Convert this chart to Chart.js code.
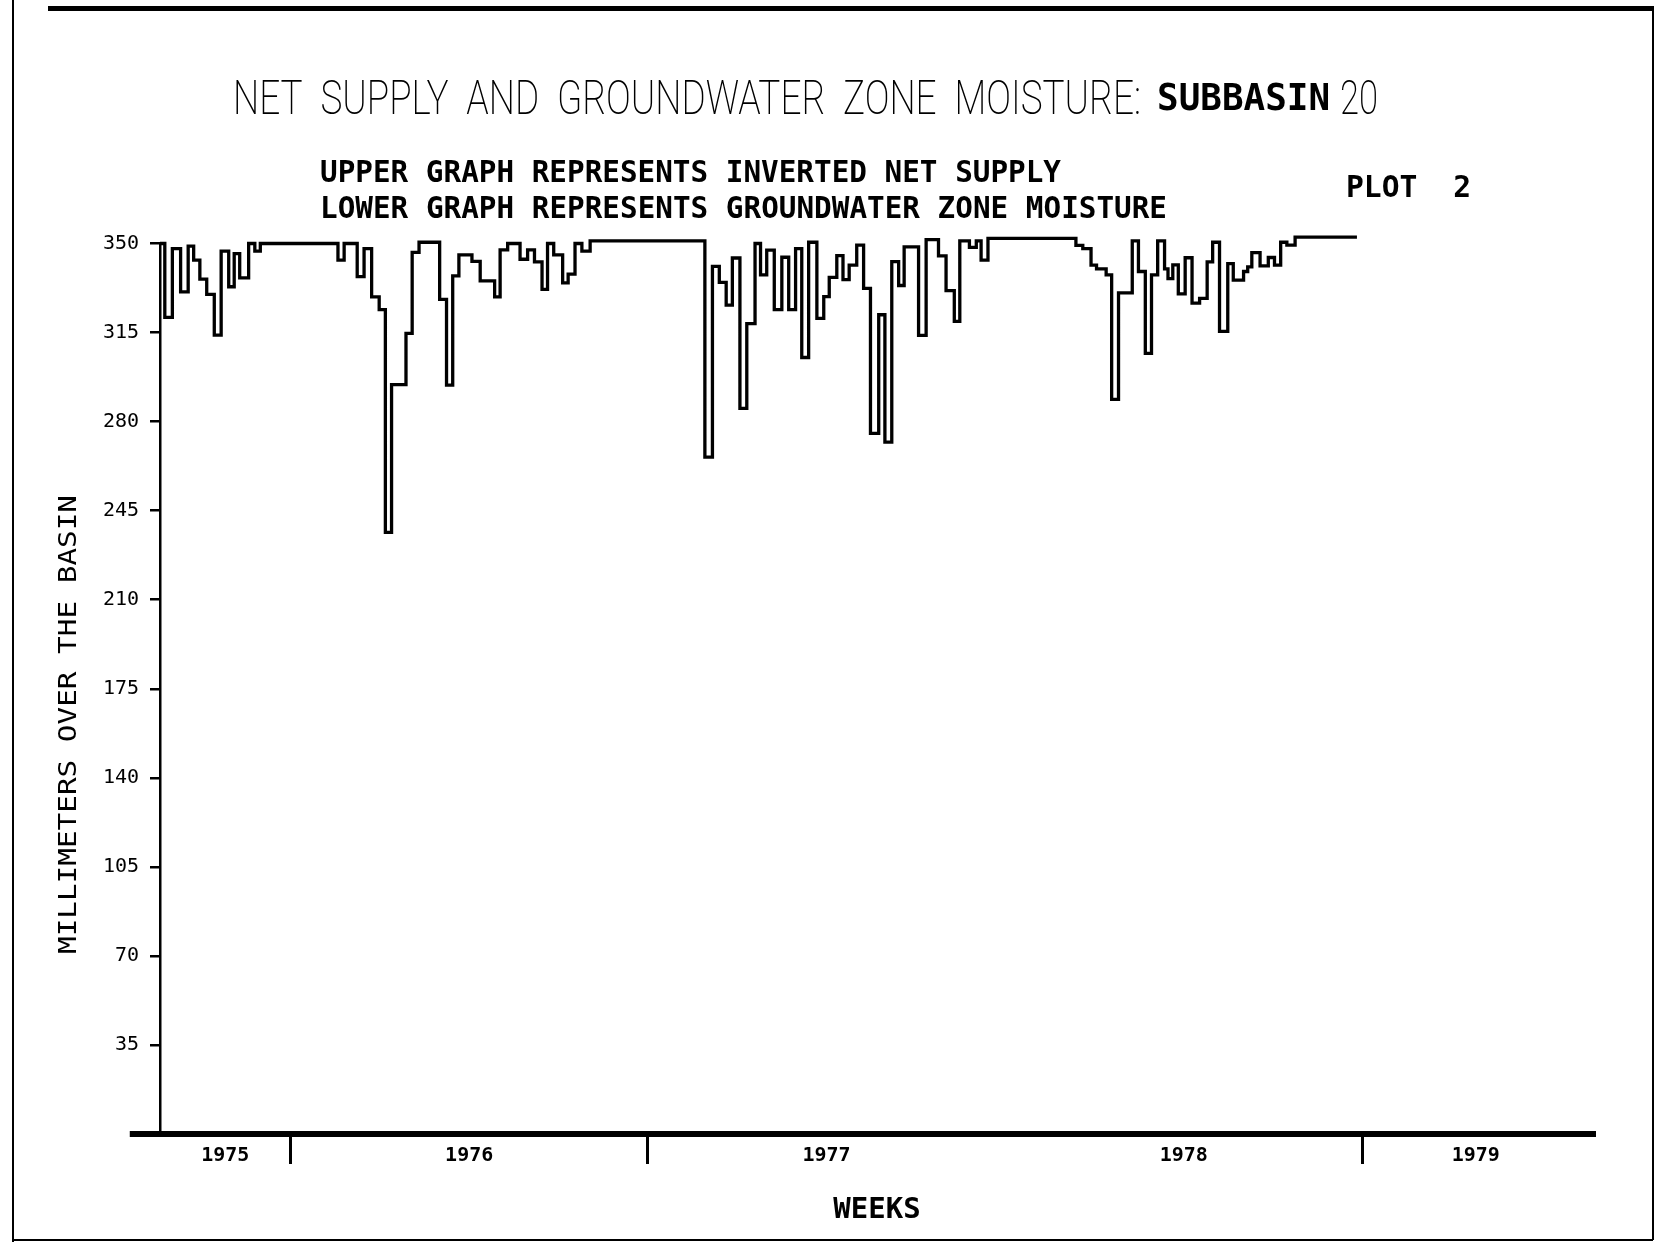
<!DOCTYPE html>
<html>
<head>
<meta charset="utf-8">
<title>Net supply and groundwater zone moisture: subbasin 20</title>
<script src="https://cdn.jsdelivr.net/npm/chart.js@4.4.0/dist/chart.umd.min.js"></script>
<style>
  html, body { margin: 0; padding: 0; background: #fff; }
  #plot { display: block; }
</style>
</head>
<body>
<canvas id="plot" width="1675" height="1242"></canvas>
<script>
// week at which each step of the plotted curve starts (week 0 = first plotted week of 1975)
var weekStarts = [
  0, 0.7, 1.8, 3.0, 4.1, 4.9, 5.8, 6.8, 7.9, 8.9, 10.0, 10.8, 11.6, 12.9, 13.8, 14.6,
  25.9, 26.8, 28.7, 29.7, 30.8, 31.9, 32.8, 33.7, 35.8, 36.7, 37.7,
  40.7, 41.7, 42.6, 43.5, 45.4, 46.6, 48.7, 49.5, 50.6, 52.4, 53.5, 54.5, 55.6, 56.4,
  57.3, 58.6, 59.4, 60.4, 61.4, 62.6,
  79.3, 80.4, 81.4, 82.4, 83.3, 84.4, 85.4, 86.6, 87.4, 88.3, 89.4, 90.5, 91.5, 92.5,
  93.4, 94.4, 95.6, 96.6, 97.4, 98.5, 99.4, 100.3, 101.4, 102.4, 103.4, 104.6, 105.5,
  106.5, 107.5, 108.3, 110.4, 111.5, 113.3, 114.4, 115.6, 116.4, 117.8, 118.8, 119.5, 120.5,
  133.3, 134.3, 135.5, 136.3, 137.7, 138.5, 139.5, 141.5, 142.4, 143.4, 144.3, 145.2,
  146.2, 146.7, 147.4, 148.2, 149.2, 150.2, 151.3, 152.4, 153.2, 154.2, 155.4, 156.2,
  157.7, 158.3, 158.9, 160.1, 161.3, 162.2, 163.1, 164.0, 165.2, 174.2
];

// upper graph: inverted net supply, millimeters over the basin
var invertedNetSupply = [
  350, 321, 348, 331, 349, 343.5, 336, 330, 314, 347, 333, 346, 336.5, 350, 347, 350,
  343.5, 350, 337, 348, 329, 324, 236.5, 294.5, 314.7, 346.5, 350.5,
  328, 294.3, 337.3, 345.5, 343, 335.3, 329, 347.5, 350, 343.8, 347.5, 342.8, 332, 350,
  345.5, 334.5, 338, 350, 347, 351,
  266, 341, 334.7, 325.8, 344.3, 285.2, 318.5, 350, 337.7, 347.4, 324, 344.6, 324, 348,
  305.2, 350.5, 320.6, 329.1, 336.7, 345.2, 335.8, 341.5, 349.4, 332.4, 275.4, 322, 271.9,
  342.9, 333.5, 348.7, 313.9, 351.5, 345.1, 331.5, 319.4, 351, 348.5, 351, 343.5, 352,
  349.3, 348, 341.5, 340, 337.7, 288.7, 330.6, 351, 339, 306.8, 337.7, 351,
  340, 336.2, 341.6, 330.2, 344.4, 326.6, 328.4, 342.8, 350.5, 315.5, 342.1, 335.6,
  339, 340.8, 346.4, 341.2, 344.5, 341.5, 350.5, 349.4, 352.5, 352.5
];

var yearLabels = ['1975', '1976', '1977', '1978', '1979'];
var yearCentres = [9.5, 45, 97, 149, 191.5];
var yearBreaks = [19, 71, 175];

var titleText = 'NET  SUPPLY  AND  GROUNDWATER  ZONE  MOISTURE:';
var subbasinText = 'SUBBASIN';
var subbasinNumber = '20';
var noteLines = ['UPPER GRAPH REPRESENTS INVERTED NET SUPPLY', 'LOWER GRAPH REPRESENTS GROUNDWATER ZONE MOISTURE'];
var plotLabel = 'PLOT  2';
var yTitle = 'MILLIMETERS OVER THE BASIN';

var plotterFont = "'DejaVu Sans Mono', monospace";

// draw text squeezed or stretched to a given width (old plotter lettering is narrow)
function fitText(ctx, text, x, y, width, font, angle) {
  ctx.save();
  ctx.font = font;
  var w = ctx.measureText(text).width;
  ctx.translate(x, y);
  if (angle) ctx.rotate(angle);
  ctx.scale(width / w, 1);
  ctx.textAlign = 'left';
  ctx.textBaseline = 'alphabetic';
  ctx.fillStyle = '#000';
  ctx.fillText(text, 0, 0);
  ctx.restore();
}

var sheetPlugin = {
  id: 'sheet',
  beforeDraw: function(chart) {
    var ctx = chart.ctx;
    ctx.save();
    ctx.fillStyle = '#fff';
    ctx.fillRect(0, 0, chart.width, chart.height);
    ctx.strokeStyle = '#000';
    // page frame
    ctx.lineWidth = 5;
    ctx.beginPath(); ctx.moveTo(48, 8.5); ctx.lineTo(1654, 8.5); ctx.stroke();
    ctx.lineWidth = 2;
    ctx.beginPath();
    ctx.moveTo(13, 0); ctx.lineTo(13, 1242);
    ctx.moveTo(1653, 8); ctx.lineTo(1653, 1240);
    ctx.moveTo(13, 1240); ctx.lineTo(1653, 1240);
    ctx.stroke();
    ctx.restore();

    fitText(ctx, titleText, 233, 114, 908, '200 48px Roboto');
    fitText(ctx, subbasinText, 1157, 110, 173, 'bold 37px ' + plotterFont);
    fitText(ctx, subbasinNumber, 1340, 114, 38, '200 48px Roboto');
    fitText(ctx, noteLines[0], 320, 182, 741, 'bold 30px ' + plotterFont);
    fitText(ctx, noteLines[1], 320, 218, 847, 'bold 30px ' + plotterFont);
    fitText(ctx, plotLabel, 1346, 197, 125, 'bold 30px ' + plotterFont);
    fitText(ctx, yTitle, 76, 954, 459, '25px ' + plotterFont, -Math.PI / 2);
  },
  afterDraw: function(chart) {
    // the week axis runs a little to the left of the vertical axis
    var ctx = chart.ctx, area = chart.chartArea, x = chart.scales.x;
    ctx.save();
    ctx.strokeStyle = '#000';
    ctx.lineWidth = 6;
    ctx.beginPath();
    ctx.moveTo(x.getPixelForValue(-4.4), area.bottom);
    ctx.lineTo(area.left, area.bottom);
    ctx.stroke();
    ctx.restore();
  }
};

var points = weekStarts.map(function(w, i) {
  return { x: w, y: invertedNetSupply[i] };
});

new Chart(document.getElementById('plot').getContext('2d'), {
  type: 'line',
  data: {
    datasets: [{
      label: 'Inverted net supply',
      data: points,
      stepped: true,
      borderColor: '#000',
      borderWidth: 3.3,
      pointRadius: 0,
      fill: false,
      clip: false
    }]
  },
  plugins: [sheetPlugin],
  options: {
    responsive: false,
    animation: false,
    devicePixelRatio: 1,
    layout: { padding: { top: 243.5, right: 81, bottom: 8, left: 0 } },
    plugins: {
      legend: { display: false },
      tooltip: { enabled: false }
    },
    scales: {
      x: {
        type: 'linear',
        min: 0,
        max: 208.7,
        afterBuildTicks: function(scale) {
          scale.ticks = yearCentres.concat(yearBreaks)
            .sort(function(a, b) { return a - b; })
            .map(function(v) { return { value: v }; });
        },
        afterFit: function(scale) { scale.height = 100; },
        ticks: {
          autoSkip: false,
          maxRotation: 0,
          padding: -20,
          color: '#000',
          font: { family: plotterFont, size: 20, weight: 'bold' },
          callback: function(value) {
            var i = yearCentres.indexOf(value);
            return i >= 0 ? yearLabels[i] : '';
          }
        },
        grid: {
          drawOnChartArea: false,
          tickLength: 30,
          lineWidth: 3,
          color: function(c) {
            return c.tick && yearBreaks.indexOf(c.tick.value) >= 0 ? '#000' : 'rgba(0,0,0,0)';
          }
        },
        border: { display: true, color: '#000', width: 6 },
        title: {
          display: true,
          text: 'WEEKS',
          color: '#000',
          font: { family: plotterFont, size: 29, weight: 'bold' },
          padding: { top: 0, bottom: 6 }
        }
      },
      y: {
        min: 0,
        max: 350,
        afterFit: function(scale) { scale.width = 160; },
        ticks: {
          stepSize: 35,
          padding: 11,
          color: '#000',
          font: { family: plotterFont, size: 20 },
          callback: function(value) { return value === 0 ? '' : value; }
        },
        grid: {
          drawOnChartArea: false,
          tickLength: 10,
          lineWidth: 2.5,
          color: function(c) {
            return c.tick && c.tick.value === 0 ? 'rgba(0,0,0,0)' : '#000';
          }
        },
        border: { color: '#000', width: 2.5 }
      }
    }
  }
});
</script>
</body>
</html>
